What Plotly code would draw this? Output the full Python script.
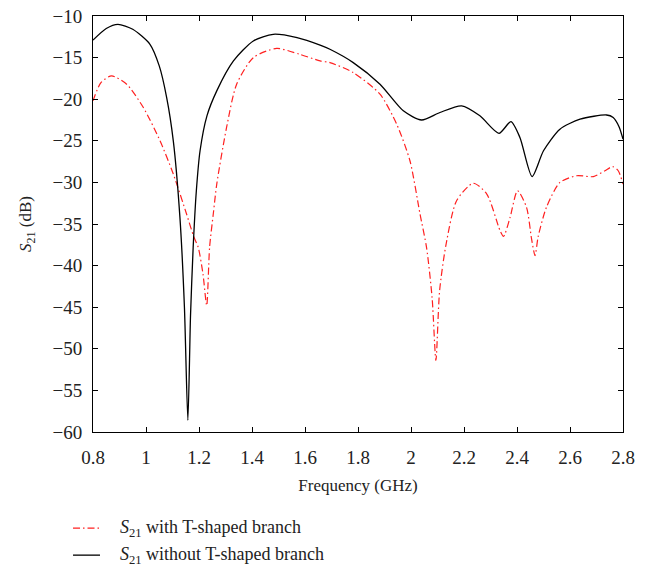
import plotly.graph_objects as go

# Without T-shaped branch (black solid)
freq_without = [0.80, 0.85, 0.894, 0.95, 1.015, 1.05, 1.078, 1.103, 1.128, 1.145, 1.158,
                1.168, 1.178, 1.19, 1.204, 1.23, 1.267, 1.33, 1.405, 1.48, 1.57, 1.657,
                1.694, 1.782, 1.883, 1.971, 2.04, 2.109, 2.191, 2.26, 2.332, 2.377, 2.411,
                2.457, 2.5, 2.562, 2.638, 2.738, 2.763, 2.785, 2.8]
s21_without = [-12.9, -11.5, -11.0, -11.6, -13.4, -16.0, -19.8, -25.0, -34.2, -45.0, -58.6,
               -46.0, -37.8, -31.0, -26.2, -22.0, -19.0, -15.4, -13.0, -12.2, -12.6, -13.5,
               -14.0, -15.6, -18.2, -21.4, -22.5, -21.6, -20.8, -22.0, -24.1, -22.7, -24.6,
               -29.3, -26.2, -23.6, -22.4, -21.9, -22.2, -23.3, -24.8]

# With T-shaped branch (red dash-dot)
freq_with = [0.80, 0.83, 0.87, 0.927, 0.99, 1.053, 1.103, 1.153, 1.18, 1.197, 1.215, 1.229,
             1.24, 1.255, 1.267, 1.304, 1.342, 1.405, 1.493, 1.58, 1.657, 1.694, 1.782,
             1.883, 1.946, 1.996, 2.034, 2.059, 2.08, 2.094, 2.108, 2.132, 2.172, 2.235,
             2.286, 2.336, 2.349, 2.374, 2.402, 2.436, 2.455, 2.468, 2.48, 2.511, 2.562,
             2.625, 2.688, 2.732, 2.761, 2.782, 2.8]
s21_with = [-20.2, -18.0, -17.2, -18.2, -21.0, -25.0, -29.0, -33.8, -36.5, -37.8, -41.0, -44.8,
            -37.8, -33.5, -30.2, -23.4, -18.2, -15.0, -13.9, -14.6, -15.4, -15.6, -16.8,
            -19.4, -23.0, -27.4, -33.8, -37.9, -44.0, -51.4, -43.0, -37.5, -32.2, -30.1,
            -31.4, -35.8, -36.5, -34.2, -31.0, -33.0, -36.8, -38.8, -36.5, -33.0, -30.0,
            -29.2, -29.3, -28.6, -28.1, -28.6, -30.2]

x_ticks = [0.8, 1.0, 1.2, 1.4, 1.6, 1.8, 2.0, 2.2, 2.4, 2.6, 2.8]
x_tick_labels = ["0.8", "1", "1.2", "1.4", "1.6", "1.8", "2", "2.2", "2.4", "2.6", "2.8"]
y_ticks = [-60, -55, -50, -45, -40, -35, -30, -25, -20, -15, -10]
y_tick_labels = ["\u221260", "\u221255", "\u221250", "\u221245", "\u221240", "\u221235",
                 "\u221230", "\u221225", "\u221220", "\u221215", "\u221210"]

series_names = ["<i>S</i><sub>21</sub> with T-shaped branch",
                "<i>S</i><sub>21</sub> without T-shaped branch"]
series_colors = ["#ff2020", "black"]
series_dashes = ["7px,3px,1.5px,3px", "solid"]
series_widths = [1.2, 1.3]

font_family = "Liberation Serif, DejaVu Serif, serif"
text_color = "#222222"

fig = go.Figure()
for fx, fy, name, col, dsh, wd in zip([freq_with, freq_without], [s21_with, s21_without],
                                      series_names, series_colors, series_dashes, series_widths):
    fig.add_trace(go.Scatter(
        x=fx, y=fy, mode="lines", name=name, showlegend=False,
        line=dict(color=col, width=wd, dash=dsh, shape="spline", smoothing=0.7),
    ))

# Manual legend below the plot (paper coordinates; does not push margins)
legend_rows_y = [-0.2310, -0.2960]
for ly, name, col, dsh, wd in zip(legend_rows_y, series_names, series_colors,
                                  series_dashes, series_widths):
    fig.add_shape(type="line", xref="paper", yref="paper",
                  x0=-0.0377, x1=0.0132, y0=ly, y1=ly,
                  line=dict(color=col, width=wd, dash=dsh))
    fig.add_annotation(xref="paper", yref="paper", x=0.047, y=ly,
                       xanchor="left", yanchor="middle", showarrow=False,
                       text=name, font=dict(family=font_family, size=18, color=text_color))

axis_common = dict(
    showgrid=False, zeroline=False, showline=True, linecolor="black", linewidth=1,
    mirror="ticks", ticks="inside", ticklen=5, tickcolor="black", tickwidth=1,
    tickfont=dict(family=font_family, size=19, color=text_color),
    automargin=False, ticklabeloverflow="allow",
)

fig.update_layout(
    width=640, height=559,
    margin=dict(l=85, r=25, t=8, b=135),
    plot_bgcolor="white", paper_bgcolor="white",
    font=dict(family=font_family, size=17, color=text_color),
    xaxis=dict(range=[0.8, 2.8], tickvals=x_ticks, ticktext=x_tick_labels,
               ticklabelstandoff=8,
               title=dict(text="Frequency (GHz)", standoff=12, font=dict(size=17)),
               **axis_common),
    yaxis=dict(range=[-60, -10], tickvals=y_ticks, ticktext=y_tick_labels,
               ticklabelstandoff=6,
               title=dict(text="<i>S</i><sub>21</sub> (dB)", standoff=16, font=dict(size=17)),
               **axis_common),
    showlegend=False,
)

fig.write_html("out.html")
